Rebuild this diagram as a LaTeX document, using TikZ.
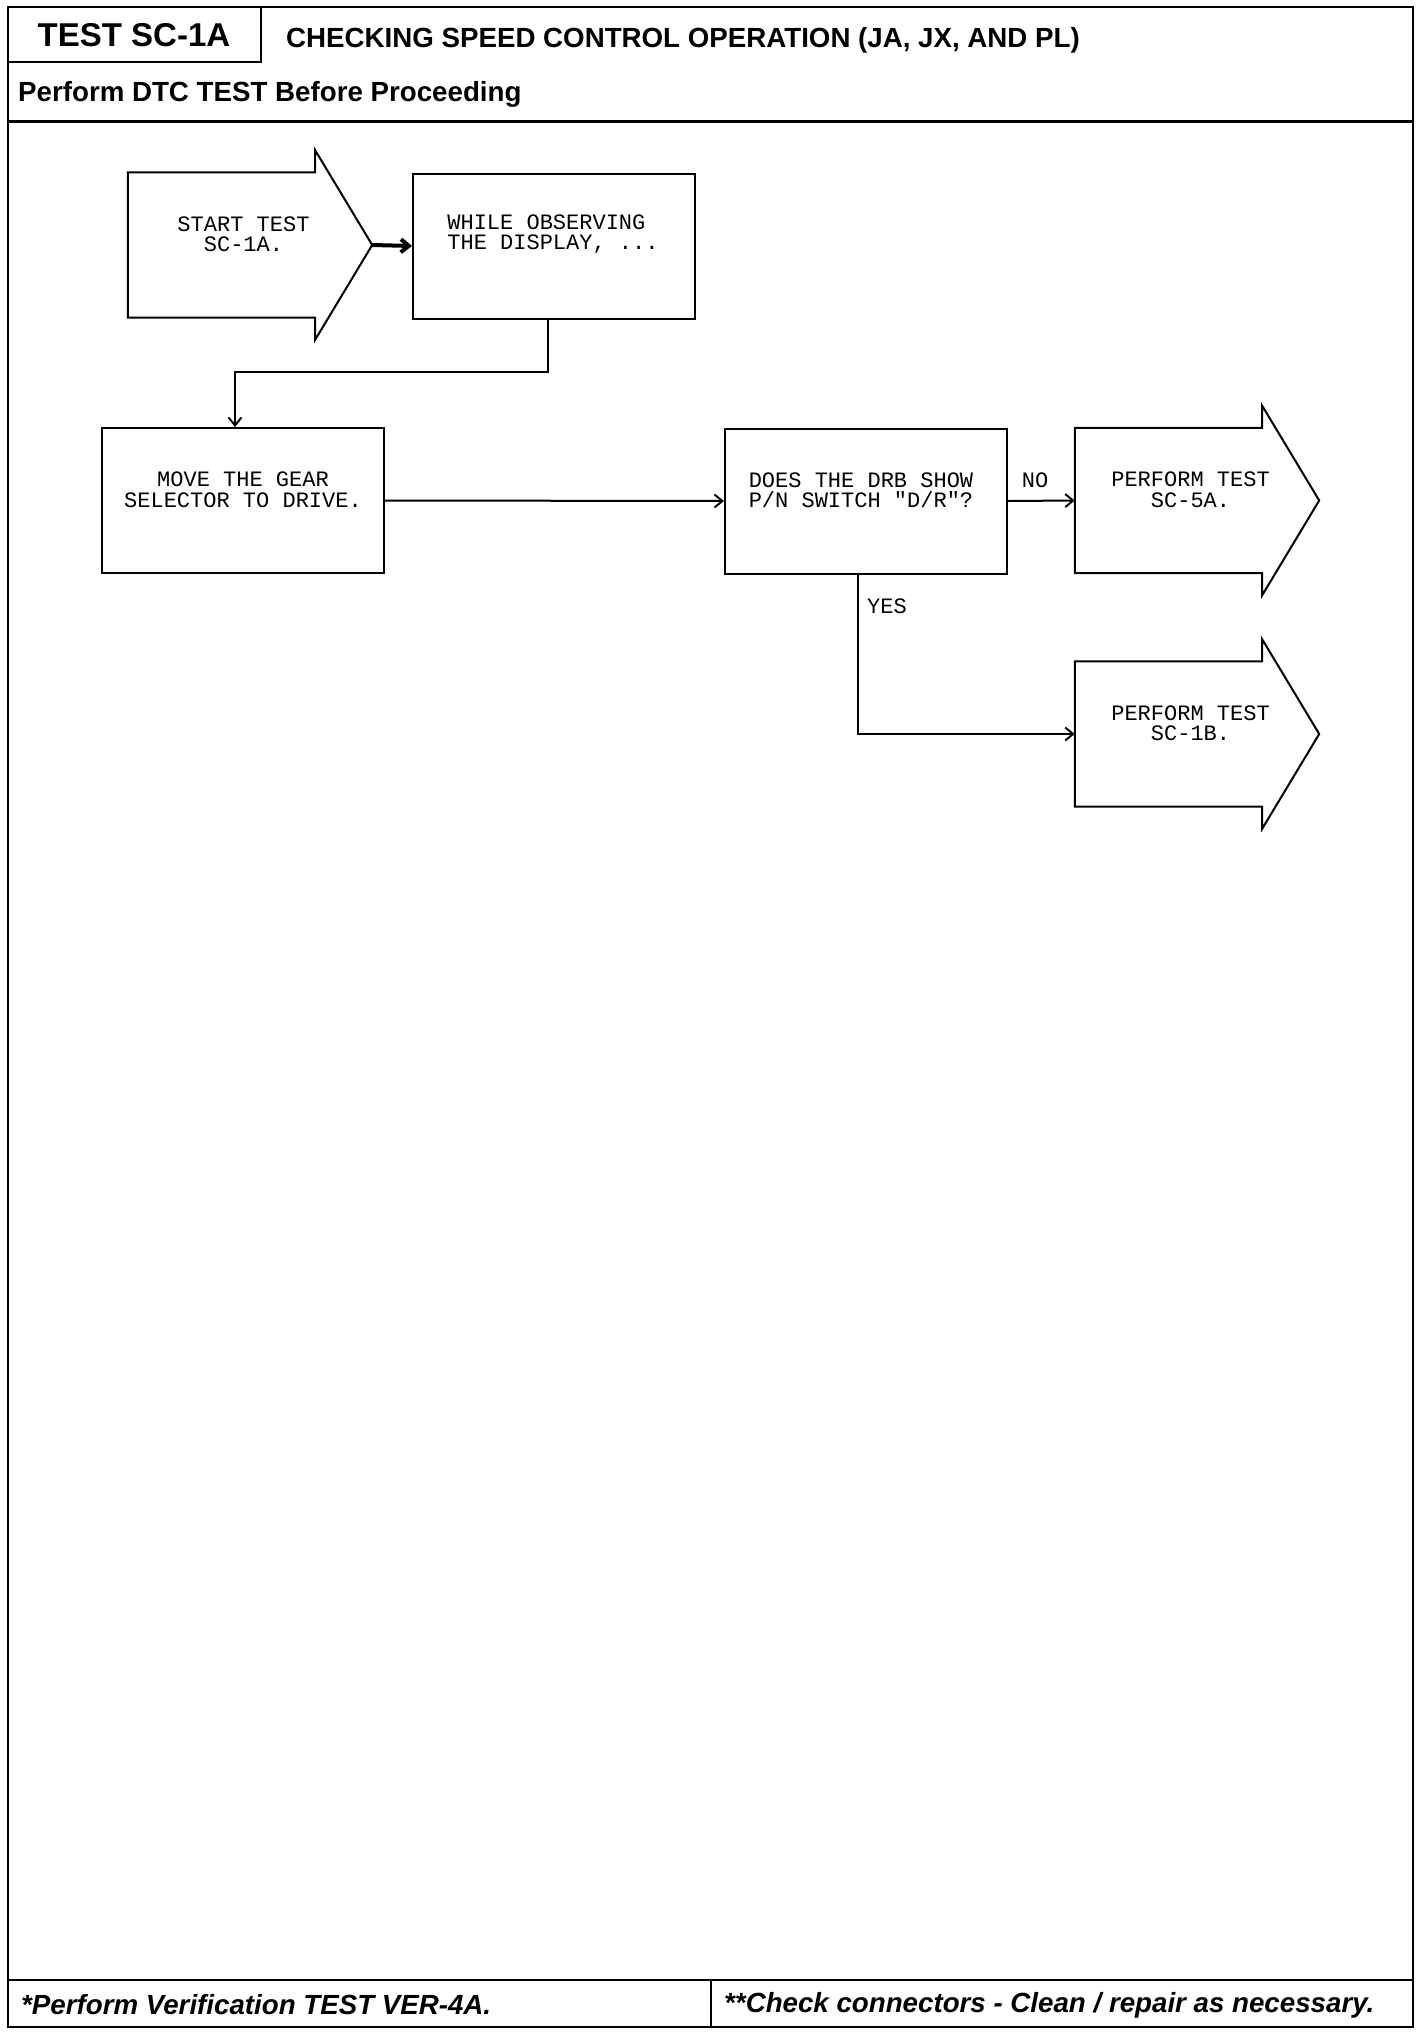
\documentclass[tikz,border=0pt]{standalone}
\usepackage{fontspec}
\setmainfont{Liberation Sans}
\newfontfamily\boxfont{Liberation Mono}
\usetikzlibrary{arrows.meta,positioning,calc}
\tikzstyle{box}=[draw,line width=2pt,minimum width=282pt,minimum height=145pt,inner sep=0pt]
\tikzstyle{body}=[minimum width=187pt,minimum height=145pt,inner sep=0pt]
\tikzstyle{txt}=[font=\boxfont\fontsize{22}{20.5}\selectfont,align=center,inner sep=0pt]
\tikzstyle{link}=[line width=2pt,-{Straight Barb[length=8pt,width=13pt]}]
\tikzstyle{head}=[font=\bfseries\fontsize{27.7}{30}\selectfont,inner sep=0pt]
\tikzstyle{foot}=[font=\bfseries\itshape\fontsize{27.7}{30}\selectfont,inner sep=0pt]
\newcommand{\arrowbox}[1]{\draw[line width=2pt] (#1.south west) -- (#1.north west) -- (#1.north east) -- ++(0,-22) -- ($(#1.east)+(57,0)$) -- ($(#1.south east)+(0,22)$) -- (#1.south east) -- cycle;}

\begin{document}
\begin{tikzpicture}[x=1pt,y=-1pt]
    \useasboundingbox (0,0) rectangle (1424,2034);
    \draw[line width=2.5pt] (8,7) rectangle (1413,2027);
    \draw[line width=2pt] (8,7) rectangle (261,62);
    \draw[line width=3pt] (8,121) -- (1413,121);
    \draw[line width=2.5pt] (8,1980) -- (1413,1980);
    \draw[line width=2pt] (711,1980) -- (711,2027);
    \node [head,font=\bfseries\fontsize{33}{36}\selectfont] (test) at (134,35) {TEST SC-1A};
    \node [head,anchor=west] (title) at (286,40) {CHECKING SPEED CONTROL OPERATION (JA, JX, AND PL)};
    \node [head,anchor=west] (dtc) at (18,94) {Perform DTC TEST Before Proceeding};
    \node [foot,anchor=west] (ver) at (21,2005) {*Perform Verification TEST VER-4A.};
    \node [foot,anchor=west] (conn) at (724,2005) {**Check connectors - Clean / repair as necessary.};

    \node [body] (start) at (221.5,245) {};
    \arrowbox{start}
    \node [txt] (startT) at ($(start)+(22,-11)$) {START TEST\\SC-1A.};
    \node [box] (while) at (554,246) {};
    \node [txt,align=left] (whileT) at ($(while)+(-1,-12)$) {WHILE OBSERVING\\THE DISPLAY, ...};
    \node [box] (move) at (243,500.5) {};
    \node [txt] (moveT) at ($(move)+(0,-11)$) {MOVE THE GEAR\\SELECTOR TO DRIVE.};
    \node [box] (does) at (866,501) {};
    \node [txt] (doesT) at ($(does)+(-5,-11)$) {DOES THE DRB SHOW\\P/N SWITCH "D/R"?};
    \node [body] (sc5a) at (1168.5,500.5) {};
    \arrowbox{sc5a}
    \node [txt] (sc5aT) at ($(sc5a)+(22,-11)$) {PERFORM TEST\\SC-5A.};
    \node [body] (sc1b) at (1168.5,734) {};
    \arrowbox{sc1b}
    \node [txt] (sc1bT) at ($(sc1b)+(22,-11)$) {PERFORM TEST\\SC-1B.};

    \draw[link,line width=4pt] ($(start.east)+(57,0)$) -- (while.west);
    \coordinate (turn) at (548,372);
    \draw[link] (turn |- while.south) -- (turn) -| ([xshift=-8pt]move.north);
    \draw[link] (move.east) -- (does.east -| does.west);
    \draw[link] (does.east) -- (sc5a.west);
    \node [txt] (no) at (1035,480) {NO};
    \draw[link] ([xshift=-8pt]does.south) |- (sc1b.west);
    \node [txt] (yes) at (887,606) {YES};
\end{tikzpicture}
\end{document}
